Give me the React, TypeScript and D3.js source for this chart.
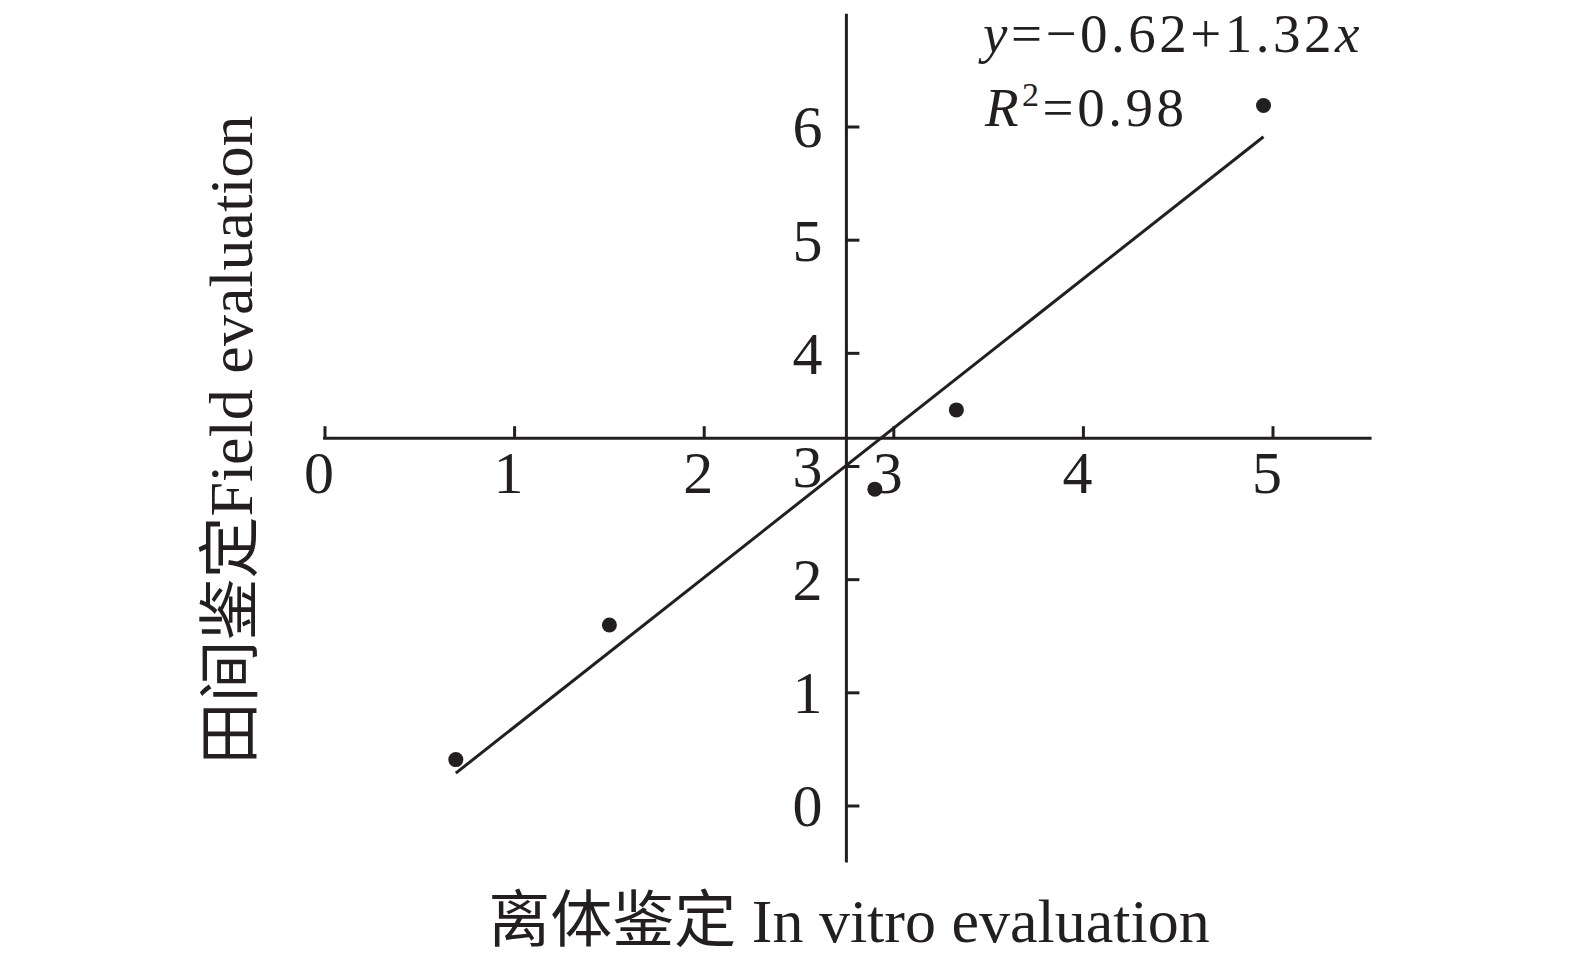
import React from "react";
import * as d3 from "d3";

// In vitro score (x) vs field score (y) for the five tested lines
const inVitro = [0.69, 1.5, 2.9, 3.33, 4.95];
const field = [0.41, 1.6, 2.8, 3.5, 6.19];

const xTicks = [0, 1, 2, 3, 4, 5];
const yTicks = [0, 1, 2, 3, 4, 5, 6];

// Fitted regression
const intercept = -0.62;
const slope = 1.32;
const r2 = 0.98;

// Where the two axes cross each other
const xAxisAtY = 3.25;
const yAxisAtX = 2.75;

const W = 1575;
const H = 962;
const serif = "'Liberation Serif', 'Times New Roman', serif";
const cjk = "'Liberation Serif', 'Noto Sans CJK SC', serif";

export default function App() {
  const x = d3.scaleLinear().domain([0, 5]).range([325, 1273]);
  const y = d3.scaleLinear().domain([0, 6]).range([806, 127]);

  const axisY = y(xAxisAtY);
  const axisX = x(yAxisAtX);

  const [xMin, xMax] = d3.extent(inVitro) as [number, number];
  const fit = d3
    .line<number>()
    .x((d) => x(d))
    .y((d) => y(intercept + slope * d));

  const fs = 60;

  return (
    <svg
      width={W}
      height={H}
      style={{ position: "absolute", left: 0, top: 0, background: "#fff" }}
    >
      {/* horizontal axis */}
      <line
        x1={x(-0.01)}
        x2={x(5.52)}
        y1={axisY}
        y2={axisY}
        stroke="#231f20"
        strokeWidth={3}
      />
      {xTicks.map((t) => (
        <g key={"xt" + t}>
          <line
            x1={x(t)}
            x2={x(t)}
            y1={axisY}
            y2={axisY - 12}
            stroke="#231f20"
            strokeWidth={3}
          />
          <text
            x={x(t) - 6}
            y={axisY + 55}
            textAnchor="middle"
            fontFamily={serif}
            fontSize={fs}
            fill="#231f20"
          >
            {t}
          </text>
        </g>
      ))}

      {/* vertical axis */}
      <line
        x1={axisX}
        x2={axisX}
        y1={y(7.0)}
        y2={y(-0.5)}
        stroke="#231f20"
        strokeWidth={3}
      />
      {yTicks.map((t) => (
        <g key={"yt" + t}>
          <line
            x1={axisX}
            x2={axisX + 13}
            y1={y(t)}
            y2={y(t)}
            stroke="#231f20"
            strokeWidth={3}
          />
          <text
            x={axisX - 24}
            y={y(t)}
            dy="0.34em"
            textAnchor="end"
            fontFamily={serif}
            fontSize={fs}
            fill="#231f20"
          >
            {t}
          </text>
        </g>
      ))}

      {/* regression line */}
      <path
        d={fit([xMin, xMax]) || ""}
        fill="none"
        stroke="#231f20"
        strokeWidth={3}
      />

      {/* observations */}
      {inVitro.map((v, i) => (
        <circle key={"p" + i} cx={x(v)} cy={y(field[i])} r={7.5} fill="#231f20" />
      ))}

      {/* equation */}
      <text
        x={983}
        y={52}
        fontFamily={serif}
        fontSize={55}
        letterSpacing={3.5}
        fill="#231f20"
      >
        <tspan fontStyle="italic">y</tspan>
        <tspan>{"=\u2212" + Math.abs(intercept).toFixed(2) + "+" + slope.toFixed(2)}</tspan>
        <tspan fontStyle="italic">x</tspan>
      </text>
      <text
        x={985}
        y={126}
        fontFamily={serif}
        fontSize={55}
        letterSpacing={3.5}
        fill="#231f20"
      >
        <tspan fontStyle="italic">R</tspan>
        <tspan fontSize={34} dy={-20}>
          2
        </tspan>
        <tspan dy={20}>{"=" + r2.toFixed(2)}</tspan>
      </text>

      {/* axis titles */}
      <text
        x={849}
        y={942}
        textAnchor="middle"
        fontFamily={cjk}
        fontSize={62}
        fill="#231f20"
      >
        离体鉴定 In vitro evaluation
      </text>
      <text
        transform={`translate(252, 440) rotate(-90)`}
        textAnchor="middle"
        fontFamily={cjk}
        fontSize={62}
        fill="#231f20"
      >
        田间鉴定Field evaluation
      </text>
    </svg>
  );
}
